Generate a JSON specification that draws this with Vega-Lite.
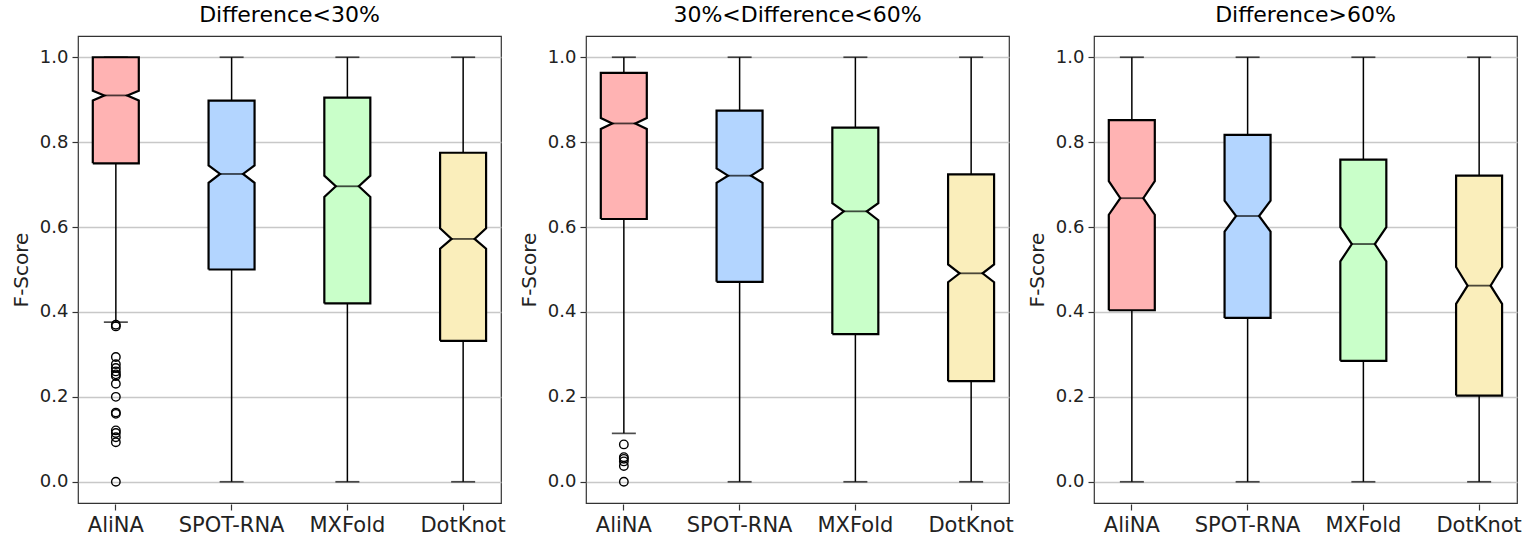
{
  "$schema": "https://vega.github.io/schema/vega-lite/v6.json",
  "padding": {"left": 10, "top": 4, "right": 5, "bottom": 2},
  "background": "white",
  "data": {"values": [
    {"group": "Difference<30%", "method": "AliNA", "kind": "box", "wlo": 0.376, "q1": 0.750, "nlo": 0.898, "med": 0.910, "nhi": 0.921, "q3": 1.0, "whi": 1.0},
    {"group": "Difference<30%", "method": "SPOT-RNA", "kind": "box", "wlo": 0.0, "q1": 0.500, "nlo": 0.704, "med": 0.725, "nhi": 0.745, "q3": 0.898, "whi": 1.0},
    {"group": "Difference<30%", "method": "MXFold", "kind": "box", "wlo": 0.0, "q1": 0.420, "nlo": 0.671, "med": 0.696, "nhi": 0.721, "q3": 0.905, "whi": 1.0},
    {"group": "Difference<30%", "method": "DotKnot", "kind": "box", "wlo": 0.0, "q1": 0.332, "nlo": 0.549, "med": 0.572, "nhi": 0.597, "q3": 0.775, "whi": 1.0},
    {"group": "30%<Difference<60%", "method": "AliNA", "kind": "box", "wlo": 0.114, "q1": 0.619, "nlo": 0.831, "med": 0.844, "nhi": 0.857, "q3": 0.963, "whi": 1.0},
    {"group": "30%<Difference<60%", "method": "SPOT-RNA", "kind": "box", "wlo": 0.0, "q1": 0.471, "nlo": 0.704, "med": 0.721, "nhi": 0.738, "q3": 0.874, "whi": 1.0},
    {"group": "30%<Difference<60%", "method": "MXFold", "kind": "box", "wlo": 0.0, "q1": 0.348, "nlo": 0.616, "med": 0.637, "nhi": 0.656, "q3": 0.834, "whi": 1.0},
    {"group": "30%<Difference<60%", "method": "DotKnot", "kind": "box", "wlo": 0.0, "q1": 0.237, "nlo": 0.470, "med": 0.491, "nhi": 0.512, "q3": 0.724, "whi": 1.0},
    {"group": "Difference>60%", "method": "AliNA", "kind": "box", "wlo": 0.0, "q1": 0.404, "nlo": 0.629, "med": 0.668, "nhi": 0.708, "q3": 0.852, "whi": 1.0},
    {"group": "Difference>60%", "method": "SPOT-RNA", "kind": "box", "wlo": 0.0, "q1": 0.386, "nlo": 0.589, "med": 0.626, "nhi": 0.662, "q3": 0.817, "whi": 1.0},
    {"group": "Difference>60%", "method": "MXFold", "kind": "box", "wlo": 0.0, "q1": 0.285, "nlo": 0.519, "med": 0.560, "nhi": 0.600, "q3": 0.759, "whi": 1.0},
    {"group": "Difference>60%", "method": "DotKnot", "kind": "box", "wlo": 0.0, "q1": 0.203, "nlo": 0.419, "med": 0.462, "nhi": 0.506, "q3": 0.721, "whi": 1.0},
    {"group": "Difference<30%", "method": "AliNA", "kind": "outlier", "value": 0.370},
    {"group": "Difference<30%", "method": "AliNA", "kind": "outlier", "value": 0.366},
    {"group": "Difference<30%", "method": "AliNA", "kind": "outlier", "value": 0.294},
    {"group": "Difference<30%", "method": "AliNA", "kind": "outlier", "value": 0.277},
    {"group": "Difference<30%", "method": "AliNA", "kind": "outlier", "value": 0.268},
    {"group": "Difference<30%", "method": "AliNA", "kind": "outlier", "value": 0.260},
    {"group": "Difference<30%", "method": "AliNA", "kind": "outlier", "value": 0.253},
    {"group": "Difference<30%", "method": "AliNA", "kind": "outlier", "value": 0.249},
    {"group": "Difference<30%", "method": "AliNA", "kind": "outlier", "value": 0.231},
    {"group": "Difference<30%", "method": "AliNA", "kind": "outlier", "value": 0.200},
    {"group": "Difference<30%", "method": "AliNA", "kind": "outlier", "value": 0.163},
    {"group": "Difference<30%", "method": "AliNA", "kind": "outlier", "value": 0.160},
    {"group": "Difference<30%", "method": "AliNA", "kind": "outlier", "value": 0.121},
    {"group": "Difference<30%", "method": "AliNA", "kind": "outlier", "value": 0.115},
    {"group": "Difference<30%", "method": "AliNA", "kind": "outlier", "value": 0.105},
    {"group": "Difference<30%", "method": "AliNA", "kind": "outlier", "value": 0.093},
    {"group": "Difference<30%", "method": "AliNA", "kind": "outlier", "value": 0.0},
    {"group": "30%<Difference<60%", "method": "AliNA", "kind": "outlier", "value": 0.088},
    {"group": "30%<Difference<60%", "method": "AliNA", "kind": "outlier", "value": 0.058},
    {"group": "30%<Difference<60%", "method": "AliNA", "kind": "outlier", "value": 0.054},
    {"group": "30%<Difference<60%", "method": "AliNA", "kind": "outlier", "value": 0.048},
    {"group": "30%<Difference<60%", "method": "AliNA", "kind": "outlier", "value": 0.037},
    {"group": "30%<Difference<60%", "method": "AliNA", "kind": "outlier", "value": 0.0}
  ]},
  "facet": {
    "column": {
      "field": "group", "type": "nominal", "title": null,
      "sort": ["Difference<30%", "30%<Difference<60%", "Difference>60%"],
      "header": {"labelFontSize": 22, "labelFont": "DejaVu Sans", "labelColor": "black", "labelPadding": 8}
    }
  },
  "spacing": 16,
  "resolve": {"axis": {"y": "independent"}},
  "spec": {
    "width": 423,
    "height": 467,
    "encoding": {
      "x": {
        "field": "method", "type": "nominal",
        "sort": ["AliNA", "SPOT-RNA", "MXFold", "DotKnot"],
        "scale": {"type": "band", "paddingInner": 0.346, "paddingOuter": 0},
        "axis": {"title": null, "labelAngle": 0, "labelFontSize": 21, "grid": false}
      }
    },
    "layer": [
      {
        "transform": [{"filter": "datum.kind === 'box'"}],
        "mark": {"type": "rule", "color": "black", "strokeWidth": 1.5},
        "encoding": {
          "y": {"field": "wlo", "type": "quantitative", "title": "F-Score",
                "scale": {"domain": [-0.05, 1.05], "nice": false, "zero": false},
                "axis": {"values": [0, 0.2, 0.4, 0.6, 0.8, 1.0], "format": ".1f"}},
          "y2": {"field": "whi"}
        }
      },
      {
        "transform": [{"filter": "datum.kind === 'box'"}, {"fold": ["wlo", "whi"], "as": ["ck", "cv"]}],
        "mark": {"type": "tick", "color": "black", "size": 24, "thickness": 1.7, "orient": "horizontal"},
        "encoding": {
          "y": {"field": "cv", "type": "quantitative", "title": "F-Score"}
        }
      },
      {
        "transform": [
          {"filter": "datum.kind === 'box'"},
          {"fold": ["q1", "nlo", "med", "nhi", "q3", "q3", "nhi", "med", "nlo", "q1", "q1"], "as": ["bk", "bv"]},
          {"window": [{"op": "row_number", "as": "vi"}], "groupby": ["group", "method"]}
        ],
        "mark": {"type": "line", "stroke": "black", "strokeWidth": 2.2, "strokeJoin": "miter"},
        "encoding": {
          "xOffset": {"field": "vi", "type": "quantitative",
                      "scale": {"domain": [1, 2, 3, 4, 5, 6, 7, 8, 9, 10, 11],
                                "range": [14.8, 14.8, 26.3, 14.8, 14.8, 60.8, 60.8, 49.3, 60.8, 60.8, 14.8],
                                "zero": false, "nice": false}},
          "y": {"field": "bv", "type": "quantitative", "title": "F-Score"},
          "fill": {"field": "method", "type": "nominal",
                   "scale": {"domain": ["AliNA", "SPOT-RNA", "MXFold", "DotKnot"], "range": ["#ffb3b3", "#b3d5ff", "#c9ffc9", "#faeebb"]},
                   "legend": null},
          "detail": {"field": "method"},
          "order": {"value": null}
        }
      },
      {
        "transform": [{"filter": "datum.kind === 'box'"}],
        "mark": {"type": "tick", "color": "black", "size": 23, "thickness": 1.8, "orient": "horizontal"},
        "encoding": {
          "y": {"field": "med", "type": "quantitative", "title": "F-Score"}
        }
      },
      {
        "transform": [{"filter": "datum.kind === 'outlier'"}],
        "mark": {"type": "point", "shape": "circle", "filled": false, "stroke": "black", "strokeWidth": 1.4, "size": 72, "opacity": 1},
        "encoding": {
          "y": {"field": "value", "type": "quantitative", "title": "F-Score"}
        }
      }
    ]
  },
  "config": {
    "font": "DejaVu Sans",
    "view": {"stroke": "#333333", "strokeWidth": 1.2},
    "axis": {
      "domain": false,
      "tickColor": "#333333", "tickSize": 6, "tickWidth": 1.2,
      "labelColor": "#222222", "labelFont": "DejaVu Sans", "labelPadding": 4,
      "titleFont": "DejaVu Sans", "titleFontWeight": "normal", "titleColor": "#222222"
    },
    "axisY": {"labelFontSize": 18, "titleFontSize": 20, "gridColor": "#c8c8c8", "gridWidth": 1.4, "titlePadding": 8}
  }
}
